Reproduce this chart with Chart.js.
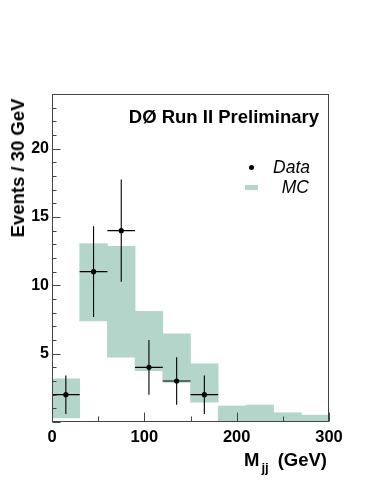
<!DOCTYPE html>
<html>
<head>
<meta charset="utf-8">
<script src="https://cdn.jsdelivr.net/npm/chart.js@4/dist/chart.umd.min.js"></script>
<style>
  html, body { margin: 0; padding: 0; background: #fff; }
  #wrap { position: relative; width: 374px; height: 484px; font-family: "Liberation Sans", Arial, sans-serif; }
  #chart { position: absolute; left: 0; top: 0; }
  .lbl { position: absolute; white-space: nowrap; color: #000; line-height: 20px; }
  #tag { right: 55px; top: 107px; font-size: 18.5px; font-weight: bold; }
  #ytitle { left: 18px; top: 168px; font-size: 18.5px; font-weight: bold; transform: translate(-50%, -50%) rotate(-90deg); }
  #xtitle { right: 47px; top: 450px; font-size: 18.5px; font-weight: bold; }
  #xtitle .sub { font-size: 13px; position: relative; top: 6px; margin-left: 2px; margin-right: 9px; }
  .leg { font-size: 17.5px; font-style: italic; right: 64px; }
  #legData { top: 157px; }
  #legMC { top: 177px; right: 65px; }
  #dot { position: absolute; left: 249px; top: 165px; width: 5px; height: 5px; border-radius: 50%; background: #000; }
  #swatch { position: absolute; left: 245px; top: 185px; width: 13px; height: 5px; background: #b4d5ca; }
</style>
</head>
<body>
<div id="wrap">
  <canvas id="chart" width="374" height="484"></canvas>
  <div class="lbl" id="tag">DØ Run II Preliminary</div>
  <div class="lbl" id="ytitle">Events / 30 GeV</div>
  <div class="lbl" id="xtitle">M<span class="sub">jj</span>(GeV)</div>
  <div id="dot"></div>
  <div class="lbl leg" id="legData">Data</div>
  <div id="swatch"></div>
  <div class="lbl leg" id="legMC">MC</div>
</div>
<script>
// MC band per 30 GeV bin (low / high edge of the shaded box)
const binCenters = [15, 45, 75, 105, 135, 165, 195, 225, 255, 285]
const mcLow  = [0.3, 7.4, 4.75, 3.75, 2.9, 1.45, 0, 0, 0, 0]
const mcHigh = [3.15, 13.05, 12.85, 8.1, 6.45, 4.25, 1.17, 1.24, 0.68, 0.5]

// data points
const dataX   = [15, 45, 75, 105, 135, 165]
const dataY   = [2, 11, 14, 4, 3, 2]
const dataErr = [1.41, 3.32, 3.74, 2, 1.73, 1.41]
const binHalf = 15

const FRAME = '#444'
const MC_COLOR = '#b4d5ca'

function errorSegments() {
    var pts = []
    for (var i = 0; i < dataX.length; i++) {
        // vertical
        pts.push({ x: dataX[i], y: dataY[i] - dataErr[i] })
        pts.push({ x: dataX[i], y: dataY[i] + dataErr[i] })
        pts.push({ x: dataX[i], y: null })
        // horizontal
        pts.push({ x: dataX[i] - binHalf, y: dataY[i] })
        pts.push({ x: dataX[i] + binHalf, y: dataY[i] })
        pts.push({ x: dataX[i] + binHalf, y: null })
    }
    return pts
}

// frame + inward ticks, ROOT style
const framePlugin = {
    id: 'frame',
    afterDraw(chart) {
        const ctx = chart.ctx
        const a = chart.chartArea
        const xs = chart.scales.x, ys = chart.scales.y
        const l = Math.round(a.left) + 0.5, r = Math.round(a.right) - 0.5
        const t = Math.round(a.top) + 0.5, b = Math.round(a.bottom) - 0.5
        ctx.save()
        ctx.strokeStyle = FRAME
        ctx.lineWidth = 1
        ctx.strokeRect(l, t, r - l, b - t)
        ctx.beginPath()
        ys.ticks.forEach(tk => {
            var py = Math.round(ys.getPixelForValue(tk.value)) + 0.5
            var len = tk.value % 5 === 0 ? 8 : 4
            ctx.moveTo(l, py); ctx.lineTo(l + len, py)
        })
        xs.ticks.forEach(tk => {
            var px = Math.round(xs.getPixelForValue(tk.value)) + 0.5
            var len = tk.value % 100 === 0 ? 9 : 5
            ctx.moveTo(px, b); ctx.lineTo(px, b - len)
        })
        ctx.stroke()
        ctx.restore()
    }
}

function main() {
    var ctx = document.getElementById('chart').getContext('2d')
    new Chart(ctx, {
        type: 'bar',
        data: {
            datasets: [{
                type: 'scatter',
                label: 'Data',
                data: dataX.map((x, i) => ({ x: x, y: dataY[i] })),
                backgroundColor: '#000',
                borderColor: '#000',
                pointRadius: 2.6,
                pointBorderWidth: 0,
                order: 0
            }, {
                type: 'line',
                label: 'errors',
                data: errorSegments(),
                borderColor: '#000',
                borderWidth: 1.1,
                pointRadius: 0,
                spanGaps: false,
                tension: 0,
                order: 1
            }, {
                type: 'bar',
                label: 'MC',
                data: binCenters.map((x, i) => ({ x: x, y: [mcLow[i], mcHigh[i]] })),
                backgroundColor: MC_COLOR,
                borderWidth: 0,
                barPercentage: 1,
                categoryPercentage: 1,
                order: 2
            }]
        },
        options: {
            responsive: false,
            animation: false,
            layout: { padding: { left: 0, top: 94, right: 45, bottom: 0 } },
            plugins: { legend: { display: false }, tooltip: { enabled: false } },
            scales: {
                x: {
                    type: 'linear',
                    min: 0, max: 300,
                    offset: false,
                    grid: { display: false, drawTicks: false, offset: false },
                    border: { display: false },
                    ticks: {
                        stepSize: 50,
                        padding: 6,
                        maxRotation: 0,
                        autoSkip: false,
                        color: '#000',
                        font: { family: 'Liberation Sans', size: 16.5, weight: 'bold' },
                        callback: v => (v % 100 === 0 ? v : '')
                    },
                    afterFit: s => { s.height = 62 }
                },
                y: {
                    min: 0, max: 24,
                    grid: { display: false, drawTicks: false },
                    border: { display: false },
                    ticks: {
                        stepSize: 1,
                        padding: 3,
                        autoSkip: false,
                        color: '#000',
                        font: { family: 'Liberation Sans', size: 16, weight: 'bold' },
                        callback: v => (v % 5 === 0 && v > 0 ? v : '')
                    },
                    afterFit: s => { s.width = 52 }
                }
            }
        },
        plugins: [framePlugin]
    })
}

window.onload = main
</script>
</body>
</html>
